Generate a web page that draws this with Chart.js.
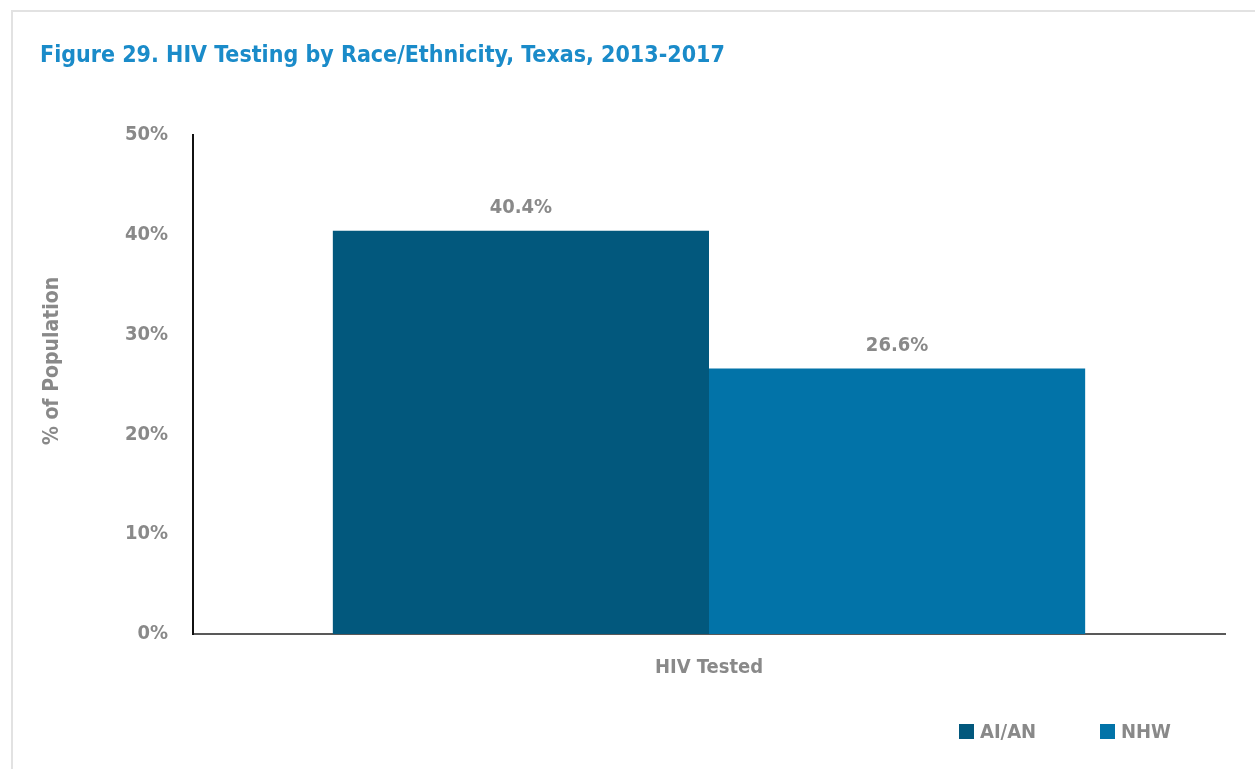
<!DOCTYPE html>
<html>
<head>
<meta charset="utf-8">
<script src="https://cdn.jsdelivr.net/npm/chart.js@4.4.0/dist/chart.umd.min.js"></script>
<style>
    body { margin: 0; background: #fff; }
    #wrap { position: relative; width: 1255px; height: 769px; overflow: hidden; }
    #frame {
        position: absolute; left: 11px; top: 10px; width: 1300px; height: 800px;
        border-left: 2px solid #e2e2e2; border-top: 2px solid #e2e2e2;
    }
    #title {
        position: absolute; left: 40px; top: 41px;
        font-family: "DejaVu Sans Condensed", sans-serif;
        font-weight: bold; font-size: 23px; color: #1a8bc9;
    }
    #legend {
        position: absolute; top: 719px; left: 959px;
        font-family: "DejaVu Sans Condensed", sans-serif;
        font-weight: bold; font-size: 20px; color: #898989;
        display: flex;
    }
    .item { display: flex; align-items: center; width: 141px; }
    .box { width: 15px; height: 15px; margin-right: 6px; }
    canvas { position: absolute; left: 0; top: 0; }
</style>
</head>
<body>
<div id="wrap">
    <div id="frame"></div>
    <canvas id="chart" width="1255" height="769"></canvas>
    <div id="title">Figure 29. HIV Testing by Race/Ethnicity, Texas, 2013-2017</div>
    <div id="legend"></div>
</div>
<script>
const categories = ["HIV Tested"];
const groups = ["AI/AN", "NHW"];
const aian = [40.4];
const nhw = [26.6];
const yTicks = [0, 10, 20, 30, 40, 50];
const yTitle = "% of Population";
const colors = ["#02587d", "#0273a8"];

const font = "'DejaVu Sans Condensed', sans-serif";
const gray = "#898989";

// value above each bar + the y axis title (sits a bit above the middle in the original)
const extraText = {
    id: "extraText",
    afterDatasetsDraw(chart) {
        const ctx = chart.ctx;
        ctx.save();
        ctx.font = "bold 20px " + font;
        ctx.fillStyle = gray;
        ctx.textAlign = "center";
        ctx.textBaseline = "alphabetic";
        chart.data.datasets.forEach((ds, i) => {
            chart.getDatasetMeta(i).data.forEach((bar, j) => {
                ctx.fillText(ds.data[j].toFixed(1) + "%", bar.x, bar.y - 18);
            });
        });

        ctx.font = "bold 21px " + font;
        ctx.textBaseline = "middle";
        ctx.translate(53, chart.chartArea.top + 226);
        ctx.rotate(-Math.PI / 2);
        ctx.fillText(yTitle, 0, 0);
        ctx.restore();
    },
};

const chart = new Chart(document.getElementById("chart"), {
    type: "bar",
    data: {
        labels: categories,
        datasets: [
            { label: groups[0], data: aian, backgroundColor: colors[0] },
            { label: groups[1], data: nhw, backgroundColor: colors[1] },
        ],
    },
    options: {
        responsive: false,
        animation: false,
        layout: { padding: { top: 135, right: 30, left: 20, bottom: 0 } },
        datasets: { bar: { categoryPercentage: 0.729, barPercentage: 1.0 } },
        scales: {
            x: {
                grid: { display: false, drawTicks: false },
                border: { color: "#595959", width: 2 },
                ticks: {
                    color: gray,
                    padding: 22,
                    font: { family: font, size: 20, weight: "bold" },
                },
                afterFit(scale) { scale.height = 135; },
            },
            y: {
                min: 0,
                max: 50,
                afterBuildTicks(scale) {
                    scale.ticks = yTicks.map((v) => ({ value: v }));
                },
                grid: { display: false, drawTicks: false },
                border: { color: "#111", width: 2 },
                ticks: {
                    color: gray,
                    padding: 25,
                    font: { family: font, size: 20, weight: "bold" },
                    callback: (v) => v + "%",
                },
                afterFit(scale) { scale.width = 173; },
            },
        },
        plugins: {
            legend: { display: false },
            tooltip: { enabled: false },
        },
    },
    plugins: [extraText],
});

// legend built from the datasets
const legend = document.getElementById("legend");
chart.data.datasets.forEach((ds) => {
    const item = document.createElement("div");
    item.className = "item";
    item.innerHTML = '<span class="box" style="background:' + ds.backgroundColor + '"></span>' + ds.label;
    legend.appendChild(item);
});
</script>
</body>
</html>
